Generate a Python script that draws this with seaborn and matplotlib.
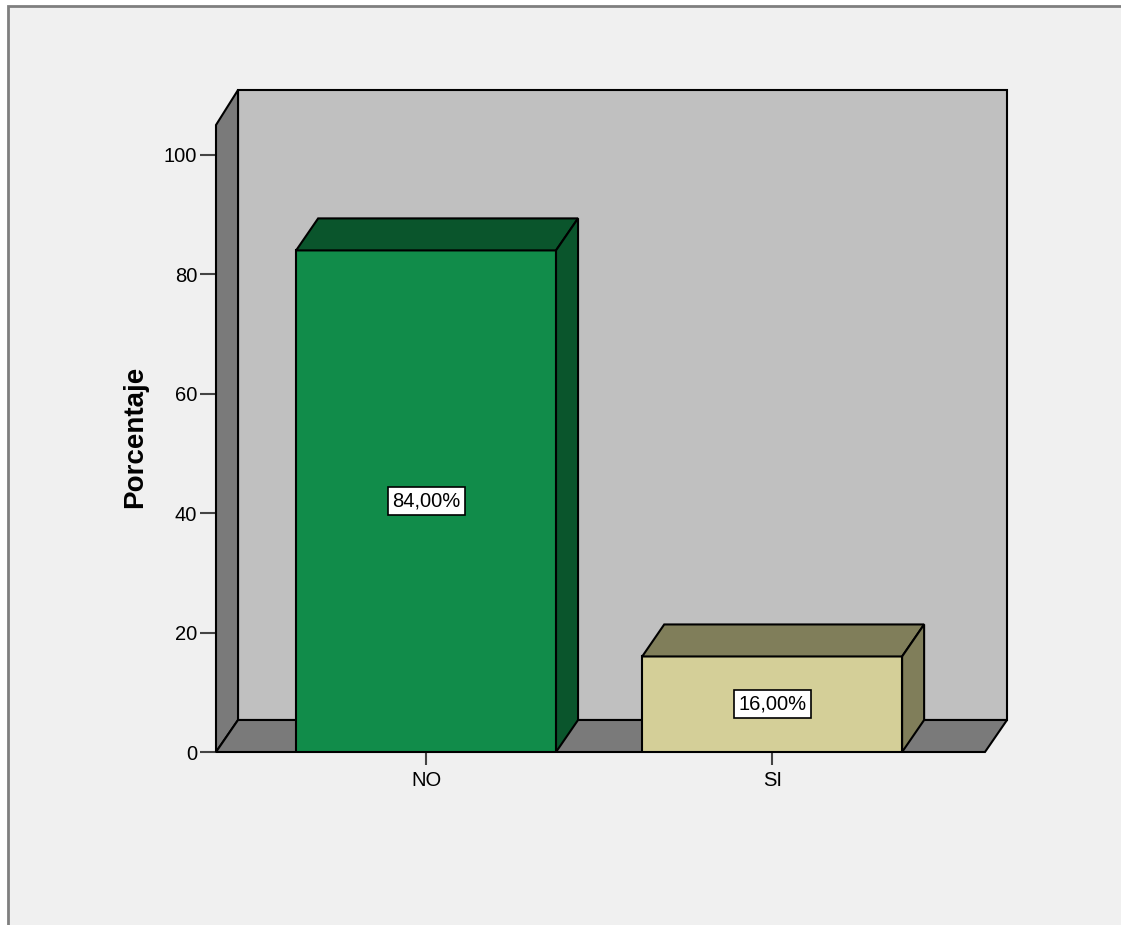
import pandas as pd
import seaborn as sns
from matplotlib import pyplot as plt
from matplotlib.patches import Polygon, Rectangle

categories = ["NO", "SI"]
percentages = [84.0, 16.0]
front_colors = ["#118c4a", "#d4cf98"]
shade_colors = ["#0a552c", "#807e5a"]
yticks = [0, 20, 40, 60, 80, 100]

sns.set_style("white")
plt.rcParams["font.family"] = ["Liberation Sans", "DejaVu Sans"]
plt.rcParams["text.color"] = "black"
plt.rcParams["axes.labelcolor"] = "black"
plt.rcParams["xtick.color"] = "black"
plt.rcParams["ytick.color"] = "black"

fig = plt.figure(figsize=(11.21, 9.25), dpi=100, facecolor="white")
# gray panel with frame, runs off the right and bottom edges
fig.patches.append(Rectangle((8 / 1121, -0.1), 1.2, (925 - 6) / 925 + 0.1,
                             transform=fig.transFigure, facecolor="#f0f0f0",
                             edgecolor="#7f7f7f", linewidth=2, zorder=-5))
ax = fig.add_axes([216 / 1121, (925 - 752) / 925, 769 / 1121, 627 / 925])
ax.set_facecolor("none")

data = pd.DataFrame({"cat": categories, "pct": percentages})
sns.barplot(data=data, x="cat", y="pct", hue="cat", palette=front_colors,
            saturation=1, width=0.751, legend=False, ax=ax,
            edgecolor="black", linewidth=1.5, zorder=5)

x0, x1 = -0.607, 1.615
y1 = 105
dx, dy = 0.0636, 5.36
ax.set_xlim(x0, x1)
ax.set_ylim(0, y1)

wall = "#c0c0c0"
floor = "#7a7a7a"
kw = dict(edgecolor="black", linewidth=1.5, clip_on=False, joinstyle="miter")
ax.add_patch(Polygon([(x0 + dx, dy), (x1 + dx, dy), (x1 + dx, y1 + dy + 0.5), (x0 + dx, y1 + dy + 0.5)],
                     facecolor=wall, zorder=1, **kw))
ax.add_patch(Polygon([(x0, 0), (x0 + dx, dy), (x0 + dx, y1 + dy + 0.5), (x0, y1)],
                     facecolor=floor, zorder=2, **kw))
ax.add_patch(Polygon([(x0, 0), (x0 + dx, dy), (x1 + dx, dy), (x1, 0)],
                     facecolor=floor, zorder=2, **kw))

for bar, shade, val in zip(ax.patches[:len(categories)], shade_colors, percentages):
    bx, bw, bh = bar.get_x(), bar.get_width(), bar.get_height()
    ax.add_patch(Polygon([(bx, bh), (bx + dx, bh + dy), (bx + bw + dx, bh + dy), (bx + bw, bh)],
                         facecolor=shade, zorder=6, **kw))
    ax.add_patch(Polygon([(bx + bw, 0), (bx + bw + dx, dy), (bx + bw + dx, bh + dy), (bx + bw, bh)],
                         facecolor=shade, zorder=6, **kw))
    ax.text(bx + bw / 2, bh / 2, f"{val:.2f}%".replace(".", ","), ha="center", va="center",
            fontsize=14.5, zorder=8,
            bbox=dict(boxstyle="square,pad=0.22", facecolor="white", edgecolor="black", linewidth=1.2))

for s in ax.spines.values():
    s.set_visible(False)
ax.set_yticks(yticks)
ax.tick_params(axis="y", left=True, length=11.5, width=1.5, color="#444444", pad=2, labelsize=14.5)
ax.tick_params(axis="x", bottom=True, length=9.5, width=1.5, color="#444444", pad=4, labelsize=14.5)
ax.set_xlabel("")
ax.set_ylabel("Porcentaje", fontsize=20, fontweight="bold")
ax.yaxis.set_label_coords(-0.088, 0.502)

fig.savefig("out.png", dpi=100, facecolor="white")
